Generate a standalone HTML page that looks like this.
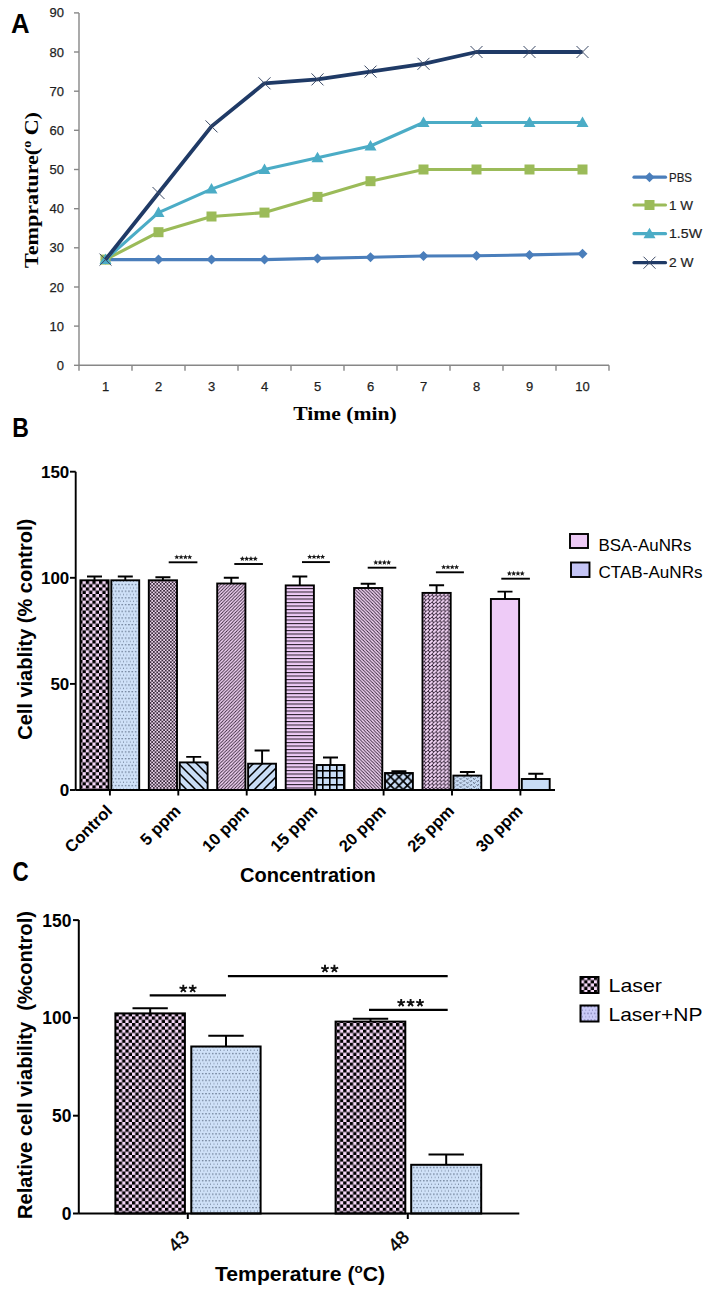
<!DOCTYPE html>
<html><head><meta charset="utf-8"><style>
html,body{margin:0;padding:0;background:#fff;}
svg{display:block;}
</style></head><body>
<svg width="716" height="1299" viewBox="0 0 716 1299">
<defs><pattern id="chk" patternUnits="userSpaceOnUse" width="6.6" height="6.6"><rect width="6.6" height="6.6" fill="#f6d8f8"/><rect x="0" y="0" width="3.3" height="3.3" fill="#000"/><rect x="3.3" y="3.3" width="3.3" height="3.3" fill="#000"/></pattern><pattern id="dots" patternUnits="userSpaceOnUse" width="3.35" height="6.7"><rect width="3.35" height="6.7" fill="#cfe1f8"/><rect x="1.1" y="1.1" width="1.1" height="1.1" fill="#33435c"/><rect x="2.775" y="4.45" width="1.1" height="1.1" fill="#33435c"/></pattern><pattern id="fchk" patternUnits="userSpaceOnUse" width="3.4" height="3.4"><rect width="3.4" height="3.4" fill="#3a2a3c"/><rect x="0" y="0" width="1.7" height="1.7" fill="#e9d4ea"/><rect x="1.7" y="1.7" width="1.7" height="1.7" fill="#e9d4ea"/></pattern><pattern id="wback" patternUnits="userSpaceOnUse" width="9" height="9"><rect width="9" height="9" fill="#c9ddf6"/><path d="M-1,-1 L10,10 M-10,-1 L1,10 M8,-1 L19,10" stroke="#000" stroke-width="1.5"/></pattern><pattern id="wfwd" patternUnits="userSpaceOnUse" width="9" height="9"><rect width="9" height="9" fill="#c9ddf6"/><path d="M-1,10 L10,-1 M-10,10 L1,-1 M8,10 L19,-1" stroke="#000" stroke-width="1.5"/></pattern><pattern id="dfwd" patternUnits="userSpaceOnUse" width="3.3" height="3.3"><rect width="3.3" height="3.3" fill="#f6d8f8"/><path d="M-1,4.3 L4.3,-1 M-4.3,4.3 L1,-1 M2.3,4.3 L7.6,-1" stroke="#2a1a2e" stroke-width="0.85"/></pattern><pattern id="dback" patternUnits="userSpaceOnUse" width="3.3" height="3.3"><rect width="3.3" height="3.3" fill="#f6d8f8"/><path d="M-1,-1 L4.3,4.3 M-4.3,-1 L1,4.3 M2.3,-1 L7.6,4.3" stroke="#2a1a2e" stroke-width="0.85"/></pattern><pattern id="hline" patternUnits="userSpaceOnUse" width="4" height="3.5"><rect width="4" height="3.5" fill="#eecbf7"/><rect x="0" y="0" width="4" height="1.05" fill="#2a1e2c"/></pattern><pattern id="grid" patternUnits="userSpaceOnUse" width="7" height="7"><rect width="7" height="7" fill="#c9ddf6"/><rect x="0" y="0" width="7" height="1.6" fill="#000"/><rect x="0" y="0" width="1.6" height="7" fill="#000"/></pattern><pattern id="xhatch" patternUnits="userSpaceOnUse" width="8.4" height="8.4"><rect width="8.4" height="8.4" fill="#c9ddf6"/><path d="M-1,-1 L9.4,9.4 M-1,9.4 L9.4,-1" stroke="#000" stroke-width="1.7"/></pattern><pattern id="dash" patternUnits="userSpaceOnUse" width="3.9" height="3.7"><rect width="3.9" height="3.7" fill="#2a1a2e"/><path d="M0.3,3.5 L3.5,0.3" stroke="#f6d8f8" stroke-width="2.05"/></pattern><pattern id="wavy" patternUnits="userSpaceOnUse" width="6.8" height="4"><rect width="6.8" height="4" fill="#c9ddf6"/><path d="M0.4,0.2 L1.7,1.5 L3,0.2 M3.8,2.2 L5.1,3.5 L6.4,2.2" fill="none" stroke="#3a4458" stroke-width="0.9"/></pattern><pattern id="dotsl" patternUnits="userSpaceOnUse" width="3.35" height="6.7"><rect width="3.35" height="6.7" fill="#cacaf8"/><rect x="1.2" y="1.2" width="1" height="1" fill="#30306a"/><rect x="2.875" y="4.55" width="1" height="1" fill="#30306a"/></pattern></defs>
<rect width="716" height="1299" fill="#fff"/>
<text x="11.00" y="32.90" font-family='"Liberation Sans", sans-serif' font-size="27" font-weight="bold" textLength="18.6" lengthAdjust="spacingAndGlyphs" fill="#000">A</text>
<line x1="79" y1="12.9" x2="79" y2="365.3" stroke="#878787" stroke-width="1.4"/>
<line x1="79" y1="365.3" x2="609" y2="365.3" stroke="#878787" stroke-width="1.4"/>
<line x1="74" y1="365.3" x2="79" y2="365.3" stroke="#878787" stroke-width="1.4"/>
<text x="64.00" y="369.90" font-family='"Liberation Sans", sans-serif' font-size="13" text-anchor="end" fill="#1e1e1e" stroke="#1e1e1e" stroke-width="0.25">0</text>
<line x1="74" y1="326.1" x2="79" y2="326.1" stroke="#878787" stroke-width="1.4"/>
<text x="64.00" y="330.74" font-family='"Liberation Sans", sans-serif' font-size="13" text-anchor="end" fill="#1e1e1e" stroke="#1e1e1e" stroke-width="0.25">10</text>
<line x1="74" y1="287.0" x2="79" y2="287.0" stroke="#878787" stroke-width="1.4"/>
<text x="64.00" y="291.58" font-family='"Liberation Sans", sans-serif' font-size="13" text-anchor="end" fill="#1e1e1e" stroke="#1e1e1e" stroke-width="0.25">20</text>
<line x1="74" y1="247.8" x2="79" y2="247.8" stroke="#878787" stroke-width="1.4"/>
<text x="64.00" y="252.42" font-family='"Liberation Sans", sans-serif' font-size="13" text-anchor="end" fill="#1e1e1e" stroke="#1e1e1e" stroke-width="0.25">30</text>
<line x1="74" y1="208.7" x2="79" y2="208.7" stroke="#878787" stroke-width="1.4"/>
<text x="64.00" y="213.26" font-family='"Liberation Sans", sans-serif' font-size="13" text-anchor="end" fill="#1e1e1e" stroke="#1e1e1e" stroke-width="0.25">40</text>
<line x1="74" y1="169.5" x2="79" y2="169.5" stroke="#878787" stroke-width="1.4"/>
<text x="64.00" y="174.10" font-family='"Liberation Sans", sans-serif' font-size="13" text-anchor="end" fill="#1e1e1e" stroke="#1e1e1e" stroke-width="0.25">50</text>
<line x1="74" y1="130.3" x2="79" y2="130.3" stroke="#878787" stroke-width="1.4"/>
<text x="64.00" y="134.94" font-family='"Liberation Sans", sans-serif' font-size="13" text-anchor="end" fill="#1e1e1e" stroke="#1e1e1e" stroke-width="0.25">60</text>
<line x1="74" y1="91.2" x2="79" y2="91.2" stroke="#878787" stroke-width="1.4"/>
<text x="64.00" y="95.78" font-family='"Liberation Sans", sans-serif' font-size="13" text-anchor="end" fill="#1e1e1e" stroke="#1e1e1e" stroke-width="0.25">70</text>
<line x1="74" y1="52.0" x2="79" y2="52.0" stroke="#878787" stroke-width="1.4"/>
<text x="64.00" y="56.62" font-family='"Liberation Sans", sans-serif' font-size="13" text-anchor="end" fill="#1e1e1e" stroke="#1e1e1e" stroke-width="0.25">80</text>
<line x1="74" y1="12.9" x2="79" y2="12.9" stroke="#878787" stroke-width="1.4"/>
<text x="64.00" y="17.46" font-family='"Liberation Sans", sans-serif' font-size="13" text-anchor="end" fill="#1e1e1e" stroke="#1e1e1e" stroke-width="0.25">90</text>
<line x1="79" y1="365.3" x2="79" y2="370.8" stroke="#878787" stroke-width="1.4"/>
<line x1="132" y1="365.3" x2="132" y2="370.8" stroke="#878787" stroke-width="1.4"/>
<line x1="185" y1="365.3" x2="185" y2="370.8" stroke="#878787" stroke-width="1.4"/>
<line x1="238" y1="365.3" x2="238" y2="370.8" stroke="#878787" stroke-width="1.4"/>
<line x1="291" y1="365.3" x2="291" y2="370.8" stroke="#878787" stroke-width="1.4"/>
<line x1="344" y1="365.3" x2="344" y2="370.8" stroke="#878787" stroke-width="1.4"/>
<line x1="397" y1="365.3" x2="397" y2="370.8" stroke="#878787" stroke-width="1.4"/>
<line x1="450" y1="365.3" x2="450" y2="370.8" stroke="#878787" stroke-width="1.4"/>
<line x1="503" y1="365.3" x2="503" y2="370.8" stroke="#878787" stroke-width="1.4"/>
<line x1="556" y1="365.3" x2="556" y2="370.8" stroke="#878787" stroke-width="1.4"/>
<line x1="609" y1="365.3" x2="609" y2="370.8" stroke="#878787" stroke-width="1.4"/>
<text x="105.50" y="391.00" font-family='"Liberation Sans", sans-serif' font-size="13" text-anchor="middle" fill="#1e1e1e" stroke="#1e1e1e" stroke-width="0.25">1</text>
<text x="158.50" y="391.00" font-family='"Liberation Sans", sans-serif' font-size="13" text-anchor="middle" fill="#1e1e1e" stroke="#1e1e1e" stroke-width="0.25">2</text>
<text x="211.50" y="391.00" font-family='"Liberation Sans", sans-serif' font-size="13" text-anchor="middle" fill="#1e1e1e" stroke="#1e1e1e" stroke-width="0.25">3</text>
<text x="264.50" y="391.00" font-family='"Liberation Sans", sans-serif' font-size="13" text-anchor="middle" fill="#1e1e1e" stroke="#1e1e1e" stroke-width="0.25">4</text>
<text x="317.50" y="391.00" font-family='"Liberation Sans", sans-serif' font-size="13" text-anchor="middle" fill="#1e1e1e" stroke="#1e1e1e" stroke-width="0.25">5</text>
<text x="370.50" y="391.00" font-family='"Liberation Sans", sans-serif' font-size="13" text-anchor="middle" fill="#1e1e1e" stroke="#1e1e1e" stroke-width="0.25">6</text>
<text x="423.50" y="391.00" font-family='"Liberation Sans", sans-serif' font-size="13" text-anchor="middle" fill="#1e1e1e" stroke="#1e1e1e" stroke-width="0.25">7</text>
<text x="476.50" y="391.00" font-family='"Liberation Sans", sans-serif' font-size="13" text-anchor="middle" fill="#1e1e1e" stroke="#1e1e1e" stroke-width="0.25">8</text>
<text x="529.50" y="391.00" font-family='"Liberation Sans", sans-serif' font-size="13" text-anchor="middle" fill="#1e1e1e" stroke="#1e1e1e" stroke-width="0.25">9</text>
<text x="582.50" y="391.00" font-family='"Liberation Sans", sans-serif' font-size="13" text-anchor="middle" fill="#1e1e1e" stroke="#1e1e1e" stroke-width="0.25">10</text>
<text x="0" y="0" transform="translate(37.8 268) rotate(-90)" font-family='"Liberation Serif", serif' font-weight="bold" font-size="19" textLength="156" lengthAdjust="spacingAndGlyphs">Temprature(<tspan font-size="12" dy="-6.5">o</tspan><tspan dy="6.5"> C)</tspan></text>
<text x="293.20" y="420.10" font-family='"Liberation Serif", serif' font-size="19.5" font-weight="bold" textLength="103.5" lengthAdjust="spacingAndGlyphs" fill="#000">Time (min)</text>
<polyline points="105.5,259.6 158.5,259.6 211.5,259.6 264.5,259.6 317.5,258.4 370.5,257.2 423.5,256.0 476.5,255.7 529.5,254.9 582.5,253.7" fill="none" stroke="#4a7ebb" stroke-width="3.1" stroke-linejoin="round"/>
<polygon points="105.5,254.6 110.5,259.6 105.5,264.6 100.5,259.6" fill="#4a7ebb"/>
<polygon points="158.5,254.6 163.5,259.6 158.5,264.6 153.5,259.6" fill="#4a7ebb"/>
<polygon points="211.5,254.6 216.5,259.6 211.5,264.6 206.5,259.6" fill="#4a7ebb"/>
<polygon points="264.5,254.6 269.5,259.6 264.5,264.6 259.5,259.6" fill="#4a7ebb"/>
<polygon points="317.5,253.4 322.5,258.4 317.5,263.4 312.5,258.4" fill="#4a7ebb"/>
<polygon points="370.5,252.2 375.5,257.2 370.5,262.2 365.5,257.2" fill="#4a7ebb"/>
<polygon points="423.5,251.0 428.5,256.0 423.5,261.0 418.5,256.0" fill="#4a7ebb"/>
<polygon points="476.5,250.7 481.5,255.7 476.5,260.7 471.5,255.7" fill="#4a7ebb"/>
<polygon points="529.5,249.9 534.5,254.9 529.5,259.9 524.5,254.9" fill="#4a7ebb"/>
<polygon points="582.5,248.7 587.5,253.7 582.5,258.7 577.5,253.7" fill="#4a7ebb"/>
<polyline points="105.5,259.6 158.5,232.2 211.5,216.5 264.5,212.6 317.5,196.9 370.5,181.2 423.5,169.5 476.5,169.5 529.5,169.5 582.5,169.5" fill="none" stroke="#9bbb59" stroke-width="3.1" stroke-linejoin="round"/>
<rect x="100.5" y="254.6" width="10" height="10" fill="#9bbb59"/>
<rect x="153.5" y="227.2" width="10" height="10" fill="#9bbb59"/>
<rect x="206.5" y="211.5" width="10" height="10" fill="#9bbb59"/>
<rect x="259.5" y="207.6" width="10" height="10" fill="#9bbb59"/>
<rect x="312.5" y="191.9" width="10" height="10" fill="#9bbb59"/>
<rect x="365.5" y="176.2" width="10" height="10" fill="#9bbb59"/>
<rect x="418.5" y="164.5" width="10" height="10" fill="#9bbb59"/>
<rect x="471.5" y="164.5" width="10" height="10" fill="#9bbb59"/>
<rect x="524.5" y="164.5" width="10" height="10" fill="#9bbb59"/>
<rect x="577.5" y="164.5" width="10" height="10" fill="#9bbb59"/>
<polyline points="105.5,259.6 158.5,212.6 211.5,189.1 264.5,169.5 317.5,157.8 370.5,146.0 423.5,122.5 476.5,122.5 529.5,122.5 582.5,122.5" fill="none" stroke="#4bacc6" stroke-width="3.1" stroke-linejoin="round"/>
<polygon points="105.5,253.6 111.5,264.1 99.5,264.1" fill="#4bacc6"/>
<polygon points="158.5,206.6 164.5,217.1 152.5,217.1" fill="#4bacc6"/>
<polygon points="211.5,183.1 217.5,193.6 205.5,193.6" fill="#4bacc6"/>
<polygon points="264.5,163.5 270.5,174.0 258.5,174.0" fill="#4bacc6"/>
<polygon points="317.5,151.8 323.5,162.3 311.5,162.3" fill="#4bacc6"/>
<polygon points="370.5,140.0 376.5,150.5 364.5,150.5" fill="#4bacc6"/>
<polygon points="423.5,116.5 429.5,127.0 417.5,127.0" fill="#4bacc6"/>
<polygon points="476.5,116.5 482.5,127.0 470.5,127.0" fill="#4bacc6"/>
<polygon points="529.5,116.5 535.5,127.0 523.5,127.0" fill="#4bacc6"/>
<polygon points="582.5,116.5 588.5,127.0 576.5,127.0" fill="#4bacc6"/>
<polyline points="105.5,259.6 158.5,193.0 211.5,126.4 264.5,83.3 317.5,79.4 370.5,71.6 423.5,63.8 476.5,52.0 529.5,52.0 582.5,52.0" fill="none" stroke="#1f3a66" stroke-width="3.8" stroke-linejoin="round"/>
<path d="M99.5,253.6 L111.5,265.6 M111.5,253.6 L99.5,265.6" stroke="#3c4a66" stroke-width="1"/>
<path d="M152.5,187.0 L164.5,199.0 M164.5,187.0 L152.5,199.0" stroke="#3c4a66" stroke-width="1"/>
<path d="M205.5,120.4 L217.5,132.4 M217.5,120.4 L205.5,132.4" stroke="#3c4a66" stroke-width="1"/>
<path d="M258.5,77.3 L270.5,89.3 M270.5,77.3 L258.5,89.3" stroke="#3c4a66" stroke-width="1"/>
<path d="M311.5,73.4 L323.5,85.4 M323.5,73.4 L311.5,85.4" stroke="#3c4a66" stroke-width="1"/>
<path d="M364.5,65.6 L376.5,77.6 M376.5,65.6 L364.5,77.6" stroke="#3c4a66" stroke-width="1"/>
<path d="M417.5,57.8 L429.5,69.8 M429.5,57.8 L417.5,69.8" stroke="#3c4a66" stroke-width="1"/>
<path d="M470.5,46.0 L482.5,58.0 M482.5,46.0 L470.5,58.0" stroke="#3c4a66" stroke-width="1"/>
<path d="M523.5,46.0 L535.5,58.0 M535.5,46.0 L523.5,58.0" stroke="#3c4a66" stroke-width="1"/>
<path d="M576.5,46.0 L588.5,58.0 M588.5,46.0 L576.5,58.0" stroke="#3c4a66" stroke-width="1"/>
<line x1="634" y1="177.2" x2="665.5" y2="177.2" stroke="#4a7ebb" stroke-width="3.2" stroke-linecap="round"/>
<polygon points="649.5,172.2 654.5,177.2 649.5,182.2 644.5,177.2" fill="#4a7ebb"/>
<text x="669.00" y="181.80" font-family='"Liberation Sans", sans-serif' font-size="12.5" textLength="23" lengthAdjust="spacingAndGlyphs" fill="#1e1e1e" stroke="#1e1e1e" stroke-width="0.2">PBS</text>
<line x1="634" y1="205" x2="665.5" y2="205" stroke="#9bbb59" stroke-width="3.2" stroke-linecap="round"/>
<rect x="644.5" y="200.0" width="10" height="10" fill="#9bbb59"/>
<text x="669.00" y="209.60" font-family='"Liberation Sans", sans-serif' font-size="12.5" textLength="24" lengthAdjust="spacingAndGlyphs" fill="#1e1e1e" stroke="#1e1e1e" stroke-width="0.2">1 W</text>
<line x1="634" y1="233.7" x2="665.5" y2="233.7" stroke="#4bacc6" stroke-width="3.2" stroke-linecap="round"/>
<polygon points="649.5,227.7 655.5,238.2 643.5,238.2" fill="#4bacc6"/>
<text x="669.00" y="238.30" font-family='"Liberation Sans", sans-serif' font-size="12.5" textLength="33" lengthAdjust="spacingAndGlyphs" fill="#1e1e1e" stroke="#1e1e1e" stroke-width="0.2">1.5W</text>
<line x1="634" y1="262.7" x2="665.5" y2="262.7" stroke="#1f3a66" stroke-width="3.2" stroke-linecap="round"/>
<path d="M643.5,256.7 L655.5,268.7 M655.5,256.7 L643.5,268.7" stroke="#3c4a66" stroke-width="1"/>
<text x="669.00" y="267.30" font-family='"Liberation Sans", sans-serif' font-size="12.5" textLength="24.5" lengthAdjust="spacingAndGlyphs" fill="#1e1e1e" stroke="#1e1e1e" stroke-width="0.2">2 W</text>
<text x="12.30" y="437.00" font-family='"Liberation Sans", sans-serif' font-size="27" font-weight="bold" textLength="16.6" lengthAdjust="spacingAndGlyphs" fill="#000">B</text>
<rect x="80.4" y="580.3" width="28.2" height="209.7" fill="url(#chk)" stroke="#000" stroke-width="1.9"/>
<path d="M94.5,580.3 L94.5,576.5 M87.0,576.5 L102.0,576.5" stroke="#000" stroke-width="1.9"/>
<rect x="111.3" y="580.3" width="27.9" height="209.7" fill="url(#dots)" stroke="#000" stroke-width="1.9"/>
<path d="M125.3,580.3 L125.3,576.5 M117.8,576.5 L132.8,576.5" stroke="#000" stroke-width="1.9"/>
<rect x="148.8" y="580.3" width="28.2" height="209.7" fill="url(#fchk)" stroke="#000" stroke-width="1.9"/>
<path d="M162.9,580.3 L162.9,577.2 M155.4,577.2 L170.4,577.2" stroke="#000" stroke-width="1.9"/>
<rect x="179.7" y="762.4" width="27.9" height="27.6" fill="url(#wback)" stroke="#000" stroke-width="1.9"/>
<path d="M193.7,762.4 L193.7,756.9 M186.2,756.9 L201.2,756.9" stroke="#000" stroke-width="1.9"/>
<line x1="168.7" y1="562.3" x2="197.4" y2="562.3" stroke="#000" stroke-width="1.9"/>
<polygon points="176.80,554.40 177.51,556.13 179.37,556.27 177.94,557.47 178.39,559.28 176.80,558.30 175.21,559.28 175.66,557.47 174.23,556.27 176.09,556.13" fill="#1a1a1a"/>
<polygon points="181.10,554.40 181.81,556.13 183.67,556.27 182.24,557.47 182.69,559.28 181.10,558.30 179.51,559.28 179.96,557.47 178.53,556.27 180.39,556.13" fill="#1a1a1a"/>
<polygon points="185.40,554.40 186.11,556.13 187.97,556.27 186.54,557.47 186.99,559.28 185.40,558.30 183.81,559.28 184.26,557.47 182.83,556.27 184.69,556.13" fill="#1a1a1a"/>
<polygon points="189.70,554.40 190.41,556.13 192.27,556.27 190.84,557.47 191.29,559.28 189.70,558.30 188.11,559.28 188.56,557.47 187.13,556.27 188.99,556.13" fill="#1a1a1a"/>
<rect x="217.2" y="583.5" width="28.2" height="206.5" fill="url(#dfwd)" stroke="#000" stroke-width="1.9"/>
<path d="M231.3,583.5 L231.3,577.8 M223.8,577.8 L238.8,577.8" stroke="#000" stroke-width="1.9"/>
<rect x="248.1" y="763.7" width="27.9" height="26.3" fill="url(#wfwd)" stroke="#000" stroke-width="1.9"/>
<path d="M262.1,763.7 L262.1,750.5 M254.6,750.5 L269.6,750.5" stroke="#000" stroke-width="1.9"/>
<line x1="234.3" y1="564" x2="262.9" y2="564" stroke="#000" stroke-width="1.9"/>
<polygon points="242.35,556.10 243.06,557.83 244.92,557.97 243.49,559.17 243.94,560.98 242.35,560.00 240.76,560.98 241.21,559.17 239.78,557.97 241.64,557.83" fill="#1a1a1a"/>
<polygon points="246.65,556.10 247.36,557.83 249.22,557.97 247.79,559.17 248.24,560.98 246.65,560.00 245.06,560.98 245.51,559.17 244.08,557.97 245.94,557.83" fill="#1a1a1a"/>
<polygon points="250.95,556.10 251.66,557.83 253.52,557.97 252.09,559.17 252.54,560.98 250.95,560.00 249.36,560.98 249.81,559.17 248.38,557.97 250.24,557.83" fill="#1a1a1a"/>
<polygon points="255.25,556.10 255.96,557.83 257.82,557.97 256.39,559.17 256.84,560.98 255.25,560.00 253.66,560.98 254.11,559.17 252.68,557.97 254.54,557.83" fill="#1a1a1a"/>
<rect x="285.7" y="585.4" width="28.2" height="204.6" fill="url(#hline)" stroke="#000" stroke-width="1.9"/>
<path d="M299.8,585.4 L299.8,576.5 M292.3,576.5 L307.3,576.5" stroke="#000" stroke-width="1.9"/>
<rect x="316.6" y="765.0" width="27.9" height="25.0" fill="url(#grid)" stroke="#000" stroke-width="1.9"/>
<path d="M330.5,765.0 L330.5,757.5 M323.0,757.5 L338.0,757.5" stroke="#000" stroke-width="1.9"/>
<line x1="302" y1="562.1" x2="329.9" y2="562.1" stroke="#000" stroke-width="1.9"/>
<polygon points="309.70,554.20 310.41,555.93 312.27,556.07 310.84,557.27 311.29,559.08 309.70,558.10 308.11,559.08 308.56,557.27 307.13,556.07 308.99,555.93" fill="#1a1a1a"/>
<polygon points="314.00,554.20 314.71,555.93 316.57,556.07 315.14,557.27 315.59,559.08 314.00,558.10 312.41,559.08 312.86,557.27 311.43,556.07 313.29,555.93" fill="#1a1a1a"/>
<polygon points="318.30,554.20 319.01,555.93 320.87,556.07 319.44,557.27 319.89,559.08 318.30,558.10 316.71,559.08 317.16,557.27 315.73,556.07 317.59,555.93" fill="#1a1a1a"/>
<polygon points="322.60,554.20 323.31,555.93 325.17,556.07 323.74,557.27 324.19,559.08 322.60,558.10 321.01,559.08 321.46,557.27 320.03,556.07 321.89,555.93" fill="#1a1a1a"/>
<rect x="354.1" y="588.0" width="28.2" height="202.0" fill="url(#dback)" stroke="#000" stroke-width="1.9"/>
<path d="M368.2,588.0 L368.2,583.7 M360.7,583.7 L375.7,583.7" stroke="#000" stroke-width="1.9"/>
<rect x="385.0" y="773.0" width="27.9" height="17.0" fill="url(#xhatch)" stroke="#000" stroke-width="1.9"/>
<path d="M398.9,773.0 L398.9,771.3 M391.4,771.3 L406.4,771.3" stroke="#000" stroke-width="1.9"/>
<line x1="367.7" y1="567.7" x2="396.3" y2="567.7" stroke="#000" stroke-width="1.9"/>
<polygon points="375.75,559.80 376.46,561.53 378.32,561.67 376.89,562.87 377.34,564.68 375.75,563.70 374.16,564.68 374.61,562.87 373.18,561.67 375.04,561.53" fill="#1a1a1a"/>
<polygon points="380.05,559.80 380.76,561.53 382.62,561.67 381.19,562.87 381.64,564.68 380.05,563.70 378.46,564.68 378.91,562.87 377.48,561.67 379.34,561.53" fill="#1a1a1a"/>
<polygon points="384.35,559.80 385.06,561.53 386.92,561.67 385.49,562.87 385.94,564.68 384.35,563.70 382.76,564.68 383.21,562.87 381.78,561.67 383.64,561.53" fill="#1a1a1a"/>
<polygon points="388.65,559.80 389.36,561.53 391.22,561.67 389.79,562.87 390.24,564.68 388.65,563.70 387.06,564.68 387.51,562.87 386.08,561.67 387.94,561.53" fill="#1a1a1a"/>
<rect x="422.5" y="592.9" width="28.2" height="197.1" fill="url(#dash)" stroke="#000" stroke-width="1.9"/>
<path d="M436.6,592.9 L436.6,585.2 M429.1,585.2 L444.1,585.2" stroke="#000" stroke-width="1.9"/>
<rect x="453.4" y="775.6" width="27.9" height="14.4" fill="url(#wavy)" stroke="#000" stroke-width="1.9"/>
<path d="M467.4,775.6 L467.4,772.0 M459.9,772.0 L474.9,772.0" stroke="#000" stroke-width="1.9"/>
<line x1="435.9" y1="572.3" x2="463.9" y2="572.3" stroke="#000" stroke-width="1.9"/>
<polygon points="443.65,564.40 444.36,566.13 446.22,566.27 444.79,567.47 445.24,569.28 443.65,568.30 442.06,569.28 442.51,567.47 441.08,566.27 442.94,566.13" fill="#1a1a1a"/>
<polygon points="447.95,564.40 448.66,566.13 450.52,566.27 449.09,567.47 449.54,569.28 447.95,568.30 446.36,569.28 446.81,567.47 445.38,566.27 447.24,566.13" fill="#1a1a1a"/>
<polygon points="452.25,564.40 452.96,566.13 454.82,566.27 453.39,567.47 453.84,569.28 452.25,568.30 450.66,569.28 451.11,567.47 449.68,566.27 451.54,566.13" fill="#1a1a1a"/>
<polygon points="456.55,564.40 457.26,566.13 459.12,566.27 457.69,567.47 458.14,569.28 456.55,568.30 454.96,569.28 455.41,567.47 453.98,566.27 455.84,566.13" fill="#1a1a1a"/>
<rect x="490.9" y="599.0" width="28.2" height="191.0" fill="#eecbf7" stroke="#000" stroke-width="1.9"/>
<path d="M505.0,599.0 L505.0,591.6 M497.5,591.6 L512.5,591.6" stroke="#000" stroke-width="1.9"/>
<rect x="521.8" y="779.0" width="27.9" height="11.0" fill="#c9ddf6" stroke="#000" stroke-width="1.9"/>
<path d="M535.8,779.0 L535.8,773.7 M528.3,773.7 L543.3,773.7" stroke="#000" stroke-width="1.9"/>
<line x1="501.3" y1="578.7" x2="529.9" y2="578.7" stroke="#000" stroke-width="1.9"/>
<polygon points="509.35,570.80 510.06,572.53 511.92,572.67 510.49,573.87 510.94,575.68 509.35,574.70 507.76,575.68 508.21,573.87 506.78,572.67 508.64,572.53" fill="#1a1a1a"/>
<polygon points="513.65,570.80 514.36,572.53 516.22,572.67 514.79,573.87 515.24,575.68 513.65,574.70 512.06,575.68 512.51,573.87 511.08,572.67 512.94,572.53" fill="#1a1a1a"/>
<polygon points="517.95,570.80 518.66,572.53 520.52,572.67 519.09,573.87 519.54,575.68 517.95,574.70 516.36,575.68 516.81,573.87 515.38,572.67 517.24,572.53" fill="#1a1a1a"/>
<polygon points="522.25,570.80 522.96,572.53 524.82,572.67 523.39,573.87 523.84,575.68 522.25,574.70 520.66,575.68 521.11,573.87 519.68,572.67 521.54,572.53" fill="#1a1a1a"/>
<line x1="75.7" y1="471.7" x2="75.7" y2="790" stroke="#000" stroke-width="1.9"/>
<line x1="75.7" y1="790" x2="555" y2="790" stroke="#000" stroke-width="1.9"/>
<line x1="70" y1="790.0" x2="75.7" y2="790.0" stroke="#000" stroke-width="1.9"/>
<text x="69.30" y="796.10" font-family='"Liberation Sans", sans-serif' font-size="17" font-weight="bold" text-anchor="end" textLength="9.5" lengthAdjust="spacingAndGlyphs" fill="#000">0</text>
<line x1="70" y1="683.9" x2="75.7" y2="683.9" stroke="#000" stroke-width="1.9"/>
<text x="69.30" y="690.00" font-family='"Liberation Sans", sans-serif' font-size="17" font-weight="bold" text-anchor="end" textLength="18.9" lengthAdjust="spacingAndGlyphs" fill="#000">50</text>
<line x1="70" y1="577.8" x2="75.7" y2="577.8" stroke="#000" stroke-width="1.9"/>
<text x="69.30" y="583.90" font-family='"Liberation Sans", sans-serif' font-size="17" font-weight="bold" text-anchor="end" textLength="28.3" lengthAdjust="spacingAndGlyphs" fill="#000">100</text>
<line x1="70" y1="471.7" x2="75.7" y2="471.7" stroke="#000" stroke-width="1.9"/>
<text x="69.30" y="477.80" font-family='"Liberation Sans", sans-serif' font-size="17" font-weight="bold" text-anchor="end" textLength="28.3" lengthAdjust="spacingAndGlyphs" fill="#000">150</text>
<line x1="109.9" y1="790" x2="109.9" y2="795.5" stroke="#000" stroke-width="1.9"/>
<text x="0" y="0" transform="translate(113.20 812.00) rotate(-45)" font-family='"Liberation Sans", sans-serif' font-size="16.6" font-weight="bold" text-anchor="end" fill="#000">Control</text>
<line x1="178.3" y1="790" x2="178.3" y2="795.5" stroke="#000" stroke-width="1.9"/>
<text x="0" y="0" transform="translate(181.62 812.00) rotate(-45)" font-family='"Liberation Sans", sans-serif' font-size="16.6" font-weight="bold" text-anchor="end" fill="#000">5 ppm</text>
<line x1="246.7" y1="790" x2="246.7" y2="795.5" stroke="#000" stroke-width="1.9"/>
<text x="0" y="0" transform="translate(250.04 812.00) rotate(-45)" font-family='"Liberation Sans", sans-serif' font-size="16.6" font-weight="bold" text-anchor="end" fill="#000">10 ppm</text>
<line x1="315.2" y1="790" x2="315.2" y2="795.5" stroke="#000" stroke-width="1.9"/>
<text x="0" y="0" transform="translate(318.46 812.00) rotate(-45)" font-family='"Liberation Sans", sans-serif' font-size="16.6" font-weight="bold" text-anchor="end" fill="#000">15 ppm</text>
<line x1="383.6" y1="790" x2="383.6" y2="795.5" stroke="#000" stroke-width="1.9"/>
<text x="0" y="0" transform="translate(386.88 812.00) rotate(-45)" font-family='"Liberation Sans", sans-serif' font-size="16.6" font-weight="bold" text-anchor="end" fill="#000">20 ppm</text>
<line x1="452.0" y1="790" x2="452.0" y2="795.5" stroke="#000" stroke-width="1.9"/>
<text x="0" y="0" transform="translate(455.30 812.00) rotate(-45)" font-family='"Liberation Sans", sans-serif' font-size="16.6" font-weight="bold" text-anchor="end" fill="#000">25 ppm</text>
<line x1="520.4" y1="790" x2="520.4" y2="795.5" stroke="#000" stroke-width="1.9"/>
<text x="0" y="0" transform="translate(523.72 812.00) rotate(-45)" font-family='"Liberation Sans", sans-serif' font-size="16.6" font-weight="bold" text-anchor="end" fill="#000">30 ppm</text>
<text x="0" y="0" transform="translate(31.50 739.80) rotate(-90)" font-family='"Liberation Sans", sans-serif' font-size="20" font-weight="bold" textLength="221" lengthAdjust="spacingAndGlyphs" fill="#000">Cell viablity (% control)</text>
<text x="240.00" y="882.20" font-family='"Liberation Sans", sans-serif' font-size="20" font-weight="bold" textLength="135.8" lengthAdjust="spacingAndGlyphs" fill="#000">Concentration</text>
<rect x="570" y="534" width="18" height="14" fill="#eecbf7" stroke="#000" stroke-width="1.9"/>
<rect x="571" y="562.5" width="18.5" height="14.5" fill="#c4c4f5" stroke="#000" stroke-width="1.9"/>
<text x="598.50" y="550.60" font-family='"Liberation Sans", sans-serif' font-size="16.5" textLength="93" lengthAdjust="spacingAndGlyphs" fill="#000">BSA-AuNRs</text>
<text x="598.50" y="578.30" font-family='"Liberation Sans", sans-serif' font-size="16.5" textLength="104" lengthAdjust="spacingAndGlyphs" fill="#000">CTAB-AuNRs</text>
<text x="12.60" y="881.40" font-family='"Liberation Sans", sans-serif' font-size="27" font-weight="bold" textLength="16.2" lengthAdjust="spacingAndGlyphs" fill="#000">C</text>
<rect x="115.4" y="1013.4" width="69.5" height="200.1" fill="url(#chk)" stroke="#000" stroke-width="2"/>
<path d="M150.2,1013.4 L150.2,1008.3 M132.5,1008.3 L167.8,1008.3" stroke="#000" stroke-width="2"/>
<rect x="191.3" y="1046.5" width="69.3" height="167.0" fill="url(#dots)" stroke="#000" stroke-width="2"/>
<path d="M226.0,1046.5 L226.0,1035.7 M208.3,1035.7 L243.7,1035.7" stroke="#000" stroke-width="2"/>
<rect x="335.6" y="1021.6" width="69.7" height="191.9" fill="url(#chk)" stroke="#000" stroke-width="2"/>
<path d="M370.5,1021.6 L370.5,1018.7 M352.8,1018.7 L388.2,1018.7" stroke="#000" stroke-width="2"/>
<rect x="411.2" y="1164.8" width="70.0" height="48.7" fill="url(#dots)" stroke="#000" stroke-width="2"/>
<path d="M446.2,1164.8 L446.2,1154.6 M428.5,1154.6 L463.9,1154.6" stroke="#000" stroke-width="2"/>
<line x1="78.8" y1="920.1" x2="78.8" y2="1213.5" stroke="#000" stroke-width="2"/>
<line x1="78.8" y1="1213.5" x2="519.3" y2="1213.5" stroke="#000" stroke-width="2"/>
<line x1="73" y1="1213.5" x2="78.8" y2="1213.5" stroke="#000" stroke-width="2"/>
<text x="71.40" y="1220.00" font-family='"Liberation Sans", sans-serif' font-size="17.5" font-weight="bold" text-anchor="end" textLength="9.7" lengthAdjust="spacingAndGlyphs" fill="#000">0</text>
<line x1="73" y1="1115.7" x2="78.8" y2="1115.7" stroke="#000" stroke-width="2"/>
<text x="71.40" y="1122.20" font-family='"Liberation Sans", sans-serif' font-size="17.5" font-weight="bold" text-anchor="end" textLength="19.4" lengthAdjust="spacingAndGlyphs" fill="#000">50</text>
<line x1="73" y1="1017.9" x2="78.8" y2="1017.9" stroke="#000" stroke-width="2"/>
<text x="71.40" y="1024.40" font-family='"Liberation Sans", sans-serif' font-size="17.5" font-weight="bold" text-anchor="end" textLength="29.1" lengthAdjust="spacingAndGlyphs" fill="#000">100</text>
<line x1="73" y1="920.1" x2="78.8" y2="920.1" stroke="#000" stroke-width="2"/>
<text x="71.40" y="926.60" font-family='"Liberation Sans", sans-serif' font-size="17.5" font-weight="bold" text-anchor="end" textLength="29.1" lengthAdjust="spacingAndGlyphs" fill="#000">150</text>
<line x1="187.8" y1="1213.5" x2="187.8" y2="1219.0" stroke="#000" stroke-width="2"/>
<text x="0" y="0" transform="translate(190.30 1238.50) rotate(-45)" font-family='"Liberation Sans", sans-serif' font-size="18.5" text-anchor="end" fill="#000" stroke="#000" stroke-width="0.4">43</text>
<line x1="407.8" y1="1213.5" x2="407.8" y2="1219.0" stroke="#000" stroke-width="2"/>
<text x="0" y="0" transform="translate(410.30 1238.50) rotate(-45)" font-family='"Liberation Sans", sans-serif' font-size="18.5" text-anchor="end" fill="#000" stroke="#000" stroke-width="0.4">48</text>
<line x1="149.7" y1="995.3" x2="226" y2="995.3" stroke="#000" stroke-width="2.3"/>
<path d="M183.30,988.70 L183.30,984.70 M183.30,988.70 L187.10,987.46 M183.30,988.70 L185.65,991.94 M183.30,988.70 L180.95,991.94 M183.30,988.70 L179.50,987.46 M192.70,988.70 L192.70,984.70 M192.70,988.70 L196.50,987.46 M192.70,988.70 L195.05,991.94 M192.70,988.70 L190.35,991.94 M192.70,988.70 L188.90,987.46 " stroke="#111" stroke-width="1.9" stroke-linecap="butt"/>
<line x1="227.9" y1="976.2" x2="447.7" y2="976.2" stroke="#000" stroke-width="2.3"/>
<path d="M325.00,968.80 L325.00,964.80 M325.00,968.80 L328.80,967.56 M325.00,968.80 L327.35,972.04 M325.00,968.80 L322.65,972.04 M325.00,968.80 L321.20,967.56 M334.40,968.80 L334.40,964.80 M334.40,968.80 L338.20,967.56 M334.40,968.80 L336.75,972.04 M334.40,968.80 L332.05,972.04 M334.40,968.80 L330.60,967.56 " stroke="#111" stroke-width="1.9" stroke-linecap="butt"/>
<line x1="369" y1="1009.8" x2="447.7" y2="1009.8" stroke="#000" stroke-width="2.3"/>
<path d="M401.20,1002.90 L401.20,998.90 M401.20,1002.90 L405.00,1001.66 M401.20,1002.90 L403.55,1006.14 M401.20,1002.90 L398.85,1006.14 M401.20,1002.90 L397.40,1001.66 M410.60,1002.90 L410.60,998.90 M410.60,1002.90 L414.40,1001.66 M410.60,1002.90 L412.95,1006.14 M410.60,1002.90 L408.25,1006.14 M410.60,1002.90 L406.80,1001.66 M420.00,1002.90 L420.00,998.90 M420.00,1002.90 L423.80,1001.66 M420.00,1002.90 L422.35,1006.14 M420.00,1002.90 L417.65,1006.14 M420.00,1002.90 L416.20,1001.66 " stroke="#111" stroke-width="1.9" stroke-linecap="butt"/>
<text x="0" y="0" transform="translate(31.80 1219.00) rotate(-90)" font-family='"Liberation Sans", sans-serif' font-size="21" font-weight="bold" textLength="308" lengthAdjust="spacingAndGlyphs" fill="#000">Relative cell viability&#160; (%control)</text>
<text x="215" y="1281.3" font-family='"Liberation Sans", sans-serif' font-weight="bold" font-size="20.5" textLength="170" lengthAdjust="spacingAndGlyphs">Temperature (<tspan font-size="13" dy="-8">o</tspan><tspan dy="8">C)</tspan></text>
<rect x="580.5" y="977" width="18" height="16" fill="url(#chk)" stroke="#000" stroke-width="2"/>
<rect x="580.5" y="1005.5" width="18" height="16" fill="url(#dotsl)" stroke="#000" stroke-width="2"/>
<text x="608.50" y="992.40" font-family='"Liberation Sans", sans-serif' font-size="19" textLength="53.5" lengthAdjust="spacingAndGlyphs" fill="#000">Laser</text>
<text x="608.50" y="1021.20" font-family='"Liberation Sans", sans-serif' font-size="19" textLength="94" lengthAdjust="spacingAndGlyphs" fill="#000">Laser+NP</text>
</svg></body></html>
